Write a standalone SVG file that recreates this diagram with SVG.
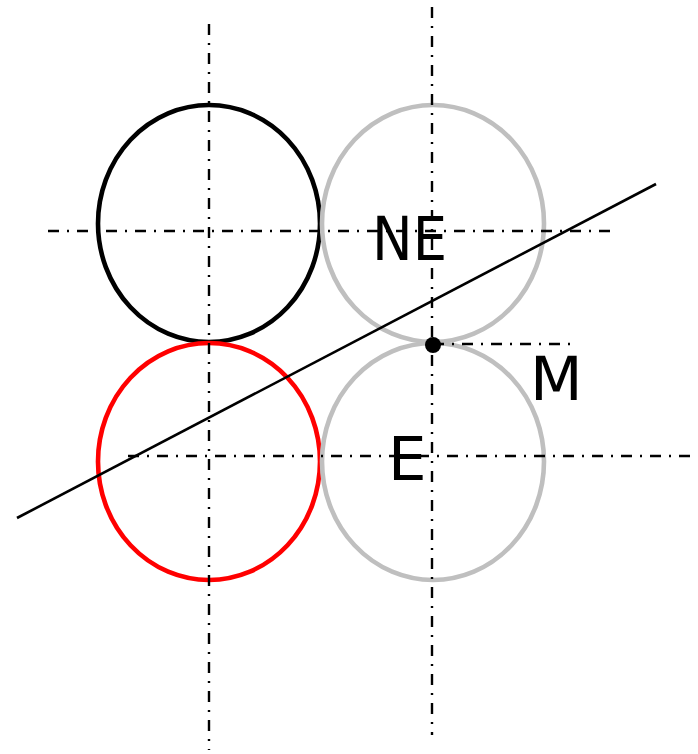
<svg xmlns="http://www.w3.org/2000/svg" width="698" height="754" viewBox="0 0 698 754">
<style>
.axis{stroke:#000;stroke-width:2.4;stroke-dasharray:11,8,2,8;fill:none}
.circ{fill:none;stroke-width:4.6}
.lbl{font-family:"DejaVu Sans",sans-serif;font-size:61px;fill:#000}
</style>
<rect width="698" height="754" fill="#fff"/>
<g id="circle-black"><ellipse class="circ" cx="209" cy="223.5" rx="111" ry="118.5" stroke="#000"/></g>
<g id="circle-NE"><ellipse class="circ" cx="433" cy="223.5" rx="111" ry="118.5" stroke="#bfbfbf"/><text class="lbl" x="372" y="260" textLength="75" lengthAdjust="spacingAndGlyphs">NE</text></g>
<g id="circle-red"><ellipse class="circ" cx="209" cy="461.5" rx="111" ry="118.5" stroke="#f00"/></g>
<g id="circle-E"><ellipse class="circ" cx="433" cy="461.5" rx="111" ry="118.5" stroke="#bfbfbf"/><text class="lbl" x="388" y="480">E</text></g>
<g id="connectors">
<line class="axis" x1="209" y1="24" x2="209" y2="750"/>
<line class="axis" x1="432" y1="7" x2="432" y2="735"/>
<line class="axis" x1="48" y1="231" x2="610" y2="231"/>
<line class="axis" x1="128" y1="456" x2="690" y2="456"/>
<line class="axis" x1="433" y1="344" x2="572" y2="344"/>
<line x1="17" y1="518" x2="656" y2="184" stroke="#000" stroke-width="2.6"/>
</g>
<g id="point-M"><circle cx="433" cy="345" r="8" fill="#000"/><text class="lbl" x="530" y="400">M</text></g>
</svg>
